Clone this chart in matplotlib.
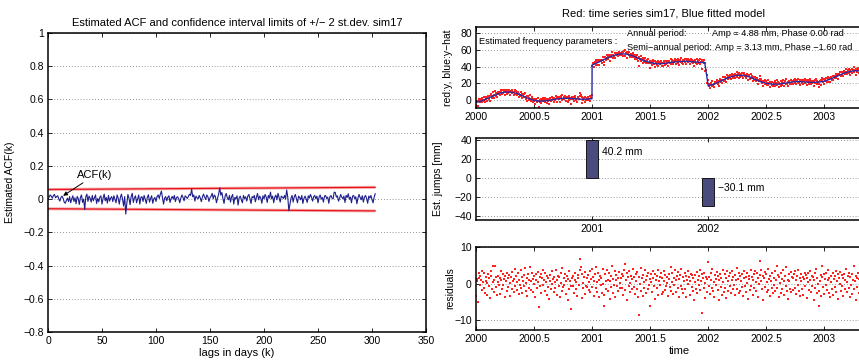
import numpy as np
import matplotlib
matplotlib.use('Agg')
import matplotlib.pyplot as plt

plt.rcParams['font.family'] = ['Liberation Sans', 'DejaVu Sans']

# ---------------- data ----------------
# ACF estimates (in units of 0.001), lags 0..303 days
acf_milli = [
    0, 12, 25, 18, 5, 22, 28, 8, 15, 20, 2, -12, 10, 18, 5, -18, -25, -8, 6, -15,
    15, -22, 2, 20, -14, 8, -28, 16, 4, -32, 10, 25, -20, 0, -62, 15, 30, -14, 18, 5,
    -18, 22, -10, 8, 25, -26, 4, -16, 12, 20, -30, 5, 30, -10, 10, -24, 22, -12, 6, 15,
    -15, 20, 0, -22, 25, 5, -30, 10, 30, 0, -42, 15, -90, -25, 28, 5, -34, 16, 35, -20,
    6, 20, -22, 2, 25, -30, 10, 15, -14, 22, 0, -26, 12, 26, -18, 4, 20, -25, 2, 10,
    -14, 16, 25, 4, 30, 48, 10, -30, 6, 15, -10, 12, 20, -20, 4, 16, 0, 22, -15, 10,
    14, 2, -22, 6, 25, 10, -10, 20, 12, 4, 16, 30, 22, 60, 14, 25, -12, 18, 8, 2,
    22, 6, -15, 14, 30, 12, -2, 25, 15, -14, 8, 18, 35, 2, 25, 15, -22, 6, 30, 68,
    24, 40, 2, -26, 18, 34, 8, -4, 22, -18, 15, 28, -30, 10, 2, 20, -36, 8, 18, -4,
    -22, 22, 4, 14, -12, 18, 28, 2, -26, 15, 8, 22, -16, 12, 34, -4, 18, 6, -25, 20,
    2, 28, 12, -20, 22, 6, 42, 2, 18, -22, 12, 24, -4, 35, 8, -18, 18, 12, 4, 22,
    0, 55, 12, -70, -30, 6, 22, -18, 14, 28, 2, -22, 18, 10, -4, 22, -26, 4, 18, 2,
    -20, 20, 6, 28, 12, -12, 14, 22, 2, 18, -22, 12, 25, 0, 10, -18, 18, 22, 4, 12,
    -25, 14, 22, 6, 2, 42, 40, 12, 20, -12, 6, 28, 12, 2, 18, -20, 22, 10, 32, 0,
    12, -22, 18, 22, 2, 14, -28, 6, 28, 10, -4, 20, -18, 12, 22, 4, -25, 18, 6, 22,
    -4, -22, 12, 32]

conf_lags = [0, 303]
conf_upper = [0.058, 0.071]
conf_lower = [-0.058, -0.071]

# fitted model (blue), read at nodes
model_t = [2000.00, 2000.05, 2000.10, 2000.15, 2000.20, 2000.25, 2000.30, 2000.35, 2000.40, 2000.45,
           2000.50, 2000.55, 2000.60, 2000.65, 2000.70, 2000.75, 2000.80, 2000.85, 2000.90, 2000.95, 2000.999,
           2001.00, 2001.05, 2001.10, 2001.15, 2001.20, 2001.25, 2001.30, 2001.35, 2001.40, 2001.45,
           2001.50, 2001.55, 2001.60, 2001.65, 2001.70, 2001.75, 2001.80, 2001.85, 2001.90, 2001.95, 2001.97,
           2002.00, 2002.05, 2002.10, 2002.15, 2002.20, 2002.25, 2002.30, 2002.35, 2002.40, 2002.45,
           2002.50, 2002.55, 2002.60, 2002.65, 2002.70, 2002.75, 2002.80, 2002.85, 2002.90, 2002.95,
           2003.00, 2003.05, 2003.10, 2003.15, 2003.20, 2003.25, 2003.30, 2003.35, 2003.40, 2003.45]
model_y = [-3, -1, 2, 5, 8, 9.5, 9.5, 8, 5, 2,
           -0.5, -1.5, -1, 0, 1.3, 2, 2, 1.5, 1, 1, 1.5,
           42, 45, 48.5, 51.5, 54, 55.5, 55, 53, 50, 47,
           45, 43.5, 43.5, 44.5, 45.5, 46, 46.5, 46, 45.5, 45, 45,
           17, 19, 22, 25.5, 28, 29.5, 29.5, 28, 25, 22,
           20, 19, 19, 20, 21, 22, 22, 21.5, 21, 21.5,
           22.5, 25, 28, 31, 33.5, 35, 35, 34, 31.5, 29]

# residuals (in units of 0.1 mm), one sample every 2 days from 2000.0
resid_tenths = [
    -35, 12, 8, -50, 15, 30, -5, 22, 10, -18, 35, 5, -12, 28, -25, 8, 18, -30, 2, 25, -8, 15, -40, 20, 33,
    -15, 5, 48, -22, 10, 48, -10, 18, -32, 3, 22, -5, 14, -28, 35, 9, -16, 26, -4, 12, -38, 20, 7, -20, 30,
    16, -9, 24, -35, 2, 19, -14, 31, 6, -24, 13, 40, -7, 21, -18, 4, 28, -29, 11, -3, 36, -12, 17, -26, 8,
    23, -6, 43, -20, 1, 15, -33, 27, 10, -11, 44, -17, 6, 29, -23, 12, -2, 20, -37, 9, 25, -13, 3, 32, -65,
    18, -8, 26, -27, 14, 37, -4, 11, -19, 30, 5, -31, 21, -9, 16, -42, 24, 7, -15, 33, -1, 13, -24, 19, 4,
    -12, 38, -30, 10, 22, -6, 17, -36, 28, 1, -20, 43, -10, 15, -3, 26, -28, 8, 20, -45, 12, 34, -16, 6, -70,
    -8, 15, -8, 20, -26, 11, 30, -14, 4, -33, 24, 16, -5, 37, 68, 46, -40, 27, 2, -11, 19, -29, 32, -7, 14,
    -10, 23, 5, -17, 35, -24, 12, 41, -9, 18, -34, 7, 26, -13, 45, -22, 3, 30, -38, 10, 21, -4, 15, -27, 39,
    -1, -60, -31, 25, 8, -15, 36, -19, 11, 28, -42, 6, 20, -10, 47, -25, 13, -3, 33, -36, 9, 24, -7, 16, -21,
    31, 2, -12, 14, 27, -12, 21, -30, 38, 53, -18, 10, 29, -44, 17, -6, 35, -23, 1, 22, -16, 13, 40, -9, 19,
    -28, 26, 7, -14, 32, -37, -85, 18, -2, 42, -20, 15, -33, 24, 4, -11, 36, -26, 9, 20, -16, 30, -5, 12, -60,
    25, 3, -22, 34, 16, -8, 27, -41, 10, 21, -13, 38, -30, 6, 17, -3, 29, -29, 14, -24, 33, 8, -17, 23, -6,
    1, 18, -35, 12, 26, -10, 46, -19, 5, 30, -28, 15, -4, 36, -23, 9, 20, -12, 31, -38, 13, 24, -7, 40, -16,
    18, -27, 7, 29, -14, 22, -36, 11, 34, -2, 19, -31, 6, 27, -9, 23, -20, 14, -44, 23, 4, -15, 32, -25, 10,
    21, -5, 37, -18, 8, 26, -80, 15, -11, 30, 2, -40, 19, 12, -24, 58, -7, 17, -29, 9, 28, -13, 41, -21, 5,
    -36, 24, 13, -3, 31, -17, 20, -46, 10, 27, -9, 16, -30, 38, 3, -22, 25, -12, 14, -39, 33, 7, -19, 22, -6,
    29, -26, 11, 35, -14, 18, -4, 24, -32, 9, 42, -16, 13, -27, 30, -20, 20, 6, -10, 26, -35, 15, 34, -8, 17,
    -23, 28, 1, -41, 22, 12, -18, 37, -6, 19, -30, 10, 25, -13, 33, -21, 5, 28, -37, 14, -2, 23, 63, 36, 8,
    -15, 20, -44, 16, 31, -9, 26, -24, 4, 39, -17, 12, -33, 21, 7, -12, 30, -27, 15, -5, 34, -20, 9, 48, -11,
    24, -36, 17, 2, -25, 29, -14, 13, 36, -30, 8, 22, -7, 45, -19, 11, -42, 25, 6, -16, 31, -23, 18, -18, 14,
    27, -11, 33, -28, 10, 20, -3, 38, -21, 15, -35, 7, 26, -15, 19, -31, 12, 30, -8, 24, -39, 16, 4, 29, -18,
    11, 35, -24, 21, -6, 17, -45, 9, 28, -13, 40, -26, 14, -2, -60, -20, 7, 23, -34, 18, 48, -10, 26, -29, 13,
    -4, 30, -17, 9, 37, -25, 15, -38, 22, 3, -14, 28, -31, 12, 20, -9, 34, -22, 6, 25, -42, 16, -1, 31, -19,
    23, -7, 14, -33, 27, 10, -16, 39, -24, 5, 21, -12, 30, -37, 17, -3, 26, -28, 11, 48, -15, 8, -44, 22, 15,
    -10, 29, -26, 13, 35, -6, 20, -30, 9, 24, -14, 18, 4, -22, 31, -8, 15, -35, 11, 26]

jump_times = [2001.0, 2002.0]
jumps = [40.2, -30.1]

annual_amp, annual_phase = 4.88, 0.00
semi_amp, semi_phase = 3.13, -1.60

acf_yticks = [-0.8, -0.6, -0.4, -0.2, 0, 0.2, 0.4, 0.6, 0.8, 1]
acf_yticklabels = ['\u22120.8', '\u22120.6', '\u22120.4', '\u22120.2', '0', '0.2', '0.4', '0.6', '0.8', '1']
acf_xticks = [0, 50, 100, 150, 200, 250, 300, 350]
time_ticks = [2000, 2000.5, 2001, 2001.5, 2002, 2002.5, 2003]
time_ticklabels = ['2000', '2000.5', '2001', '2001.5', '2002', '2002.5', '2003']

# ---------------- derived ----------------
acf = np.array(acf_milli) / 1000.0
lags = np.arange(len(acf))
resid = np.array(resid_tenths) / 10.0
t = 2000.0 + np.arange(len(resid)) * 2.0 / 365.25
y_obs = np.interp(t, model_t, model_y) + resid

# ---------------- figure ----------------
W, H = 859, 362
fig = plt.figure(figsize=(W / 100, H / 100), dpi=100)
FS = 7.5
GRID = dict(color='0.45', linestyle=(0, (1, 2.5)), linewidth=0.6)


def style(ax):
    ax.tick_params(direction='in', top=True, right=True, length=3, width=0.6,
                   labelsize=FS, pad=3)
    for s in ax.spines.values():
        s.set_linewidth(1.1)
    ax.yaxis.grid(True, **GRID)
    ax.set_axisbelow(True)


# ---- left: ACF ----
ax1 = fig.add_axes([48 / W, 1 - 332 / H, 378 / W, 299 / H])
style(ax1)
ax1.plot(conf_lags, conf_upper, color='#f7b0b0', lw=2.2, solid_capstyle='butt')
ax1.plot(conf_lags, conf_lower, color='#f7b0b0', lw=2.2, solid_capstyle='butt')
ax1.plot(conf_lags, conf_upper, color='#e8141e', lw=0.9)
ax1.plot(conf_lags, conf_lower, color='#e8141e', lw=0.9)
ax1.plot(lags, acf, color='#1e1e8c', lw=0.8)
ax1.set_xlim(0, 350)
ax1.set_ylim(-0.8, 1)
ax1.set_xticks(acf_xticks)
ax1.set_yticks(acf_yticks)
ax1.set_yticklabels(acf_yticklabels)
ax1.set_title('Estimated ACF and confidence interval limits of +/\u2212 2 st.dev. sim17',
              fontsize=8, pad=5)
ax1.set_xlabel('lags in days (k)', fontsize=8, labelpad=1)
ax1.set_ylabel('Estimated ACF(k)', fontsize=7.5)
ax1.yaxis.set_label_coords(-0.087, 0.5)
ax1.annotate('ACF(k)', xy=(14, 0.02), xytext=(27, 0.145), fontsize=8, va='center',
             arrowprops=dict(arrowstyle='-|>', color='black', lw=0.7,
                             mutation_scale=6, shrinkA=0, shrinkB=0))

# ---- right axes ----
x0 = 476 / W
wr = 3.5 * 116.1 / W
ax2 = fig.add_axes([x0, 1 - 108 / H, wr, 81 / H])
ax3 = fig.add_axes([x0, 1 - 220 / H, wr, 82 / H])
ax4 = fig.add_axes([x0, 1 - 330 / H, wr, 83 / H])
for ax in (ax2, ax3, ax4):
    style(ax)
    ax.set_xlim(2000, 2003.5)

# top: series + model
ax2.plot(t, y_obs, linestyle='none', marker='s', ms=1.5, mew=0, color='#ff2020')
ax2.plot(model_t, model_y, color='#2a2aa0', lw=1.0)
ax2.set_ylim(-9.6, 87.6)
ax2.set_yticks([0, 20, 40, 60, 80])
ax2.set_xticks(time_ticks)
ax2.set_xticklabels(time_ticklabels)
ax2.set_ylabel('red:y, blue:y\u2212hat', fontsize=FS)
ax2.yaxis.set_label_coords(-0.057, 0.5)
fig.text(664 / W, 1 - 13 / H, 'Red: time series sim17, Blue fitted model',
         ha='center', va='center', fontsize=8)
tfs = 6.6
ax2.text(2000.03, 69.6, 'Estimated frequency parameters :', fontsize=tfs, va='center')
ax2.text(2001.30, 80.4, 'Annual period:', fontsize=tfs, va='center')
ax2.text(2002.033, 80.4, f'Amp = {annual_amp:.2f} mm, Phase {annual_phase:.2f} rad'.replace('-', '\u2212'),
         fontsize=tfs, va='center')
ax2.text(2001.30, 63.6, 'Semi\u2212annual period:', fontsize=tfs, va='center')
ax2.text(2002.059, 63.6, f'Amp = {semi_amp:.2f} mm, Phase {semi_phase:.2f} rad'.replace('-', '\u2212'),
         fontsize=tfs, va='center')

# middle: jumps
ax3.bar(jump_times, jumps, width=0.1, color='#4b4a7c', edgecolor='black', linewidth=0.6, zorder=3)
for jt, j in zip(jump_times, jumps):
    ylab = 0.69 * j if j > 0 else 0.36 * j
    ax3.text(jt + 0.085, ylab, f'{j:.1f} mm'.replace('-', '\u2212'), fontsize=FS, va='center')
ax3.set_ylim(-44.6, 42.5)
ax3.set_yticks([-40, -20, 0, 20, 40])
ax3.set_xticks([2001, 2002])
ax3.set_xticklabels(['2001', '2002'])
ax3.set_ylabel('Est. jumps [mm]', fontsize=FS)
ax3.yaxis.set_label_coords(-0.081, 0.5)

# bottom: residuals
ax4.plot(t, resid, linestyle='none', marker='s', ms=1.5, mew=0, color='#ff2020')
ax4.set_ylim(-12.7, 10)
ax4.set_yticks([-10, 0, 10])
ax4.set_xticks(time_ticks)
ax4.set_xticklabels(time_ticklabels)
ax4.set_ylabel('residuals', fontsize=FS)
ax4.yaxis.set_label_coords(-0.052, 0.5)
ax4.set_xlabel('time', fontsize=8, labelpad=1)

fig.savefig('out.png', dpi=100)
